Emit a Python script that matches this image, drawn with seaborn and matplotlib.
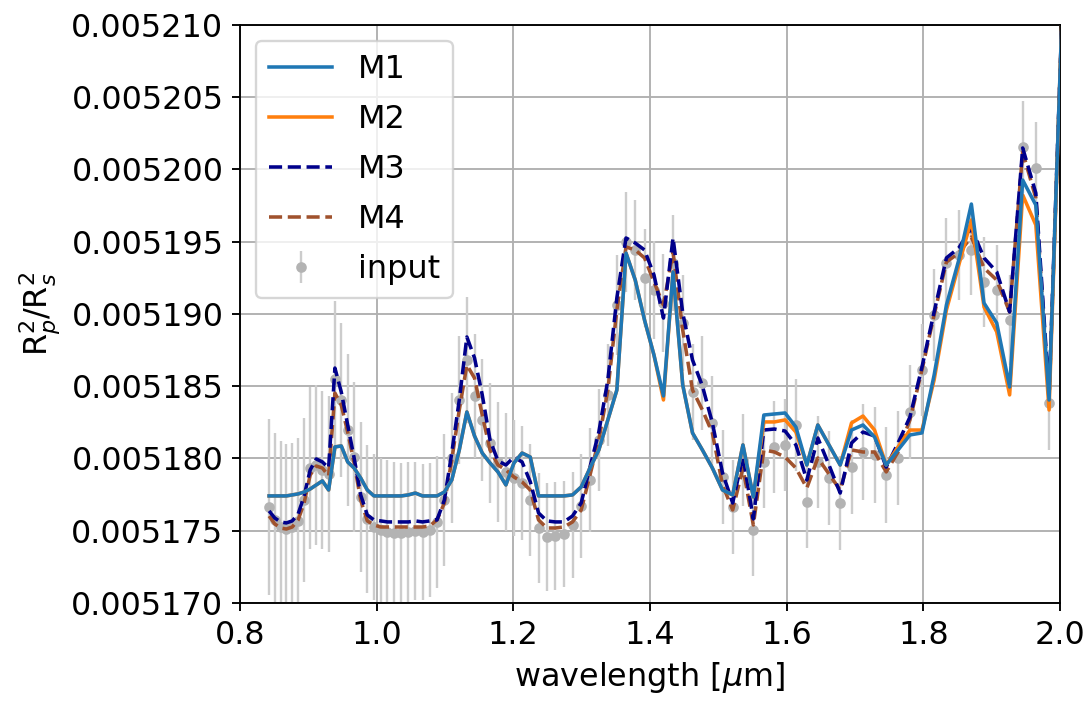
import numpy as np
import matplotlib
matplotlib.use("Agg")
import matplotlib.pyplot as plt
import seaborn as sns
from matplotlib.ticker import FormatStrFormatter, MultipleLocator

# wavelength grid [micron]
wavelength = [
    0.8426, 0.8509, 0.8593, 0.8678, 0.8764, 0.8851, 0.8938, 0.9027, 0.9116, 0.9206,
    0.9297, 0.9389, 0.9482, 0.9576, 0.9670, 0.9766, 0.9863, 0.9960, 1.0059, 1.0158,
    1.0259, 1.0360, 1.0463, 1.0566, 1.0671, 1.0776, 1.0883, 1.0991, 1.1099, 1.1209,
    1.1320, 1.1432, 1.1545, 1.1659, 1.1775, 1.1891, 1.2009, 1.2128, 1.2248, 1.2369,
    1.2491, 1.2615, 1.2740, 1.2866, 1.2993, 1.3122, 1.3251, 1.3383, 1.3515, 1.3649,
    1.3784, 1.3920, 1.4058, 1.4197, 1.4337, 1.4479, 1.4622, 1.4767, 1.4913, 1.5061,
    1.5210, 1.5360, 1.5512, 1.5666, 1.5821, 1.5977, 1.6135, 1.6295, 1.6456, 1.6619,
    1.6783, 1.6949, 1.7117, 1.7286, 1.7457, 1.7630, 1.7804, 1.7980, 1.8158, 1.8338,
    1.8519, 1.8703, 1.8888, 1.9074, 1.9263, 1.9454, 1.9646, 1.9840, 2.0037]

# all depth values below are in units of 1e-6
m1 = [
    5177.41, 5177.41, 5177.41, 5177.41, 5177.48, 5177.55, 5177.68, 5177.89, 5178.17, 5178.45, 5177.82,
    5180.80, 5180.87, 5179.76, 5179.34, 5178.65, 5177.82, 5177.41, 5177.41, 5177.41, 5177.41,
    5177.41, 5177.48, 5177.61, 5177.41, 5177.41, 5177.41, 5177.68, 5178.51, 5180.59, 5183.22,
    5181.56, 5180.38, 5179.69, 5179.07, 5178.17, 5179.69, 5180.38, 5180.10, 5177.41, 5177.41,
    5177.41, 5177.41, 5177.48, 5178.03, 5179.34, 5180.59, 5182.67, 5184.74, 5194.22, 5192.35,
    5189.58, 5187.16, 5184.33, 5192.91, 5185.09, 5181.77, 5180.59, 5179.34, 5177.82, 5177.48,
    5180.94, 5177.34, 5183.01, 5183.08, 5183.15, 5182.18, 5179.55, 5182.32, 5180.94, 5179.55,
    5181.97, 5182.32, 5181.49, 5179.55, 5180.59, 5181.63, 5181.77, 5185.78, 5190.62, 5193.74,
    5197.61, 5190.76, 5189.38, 5184.95, 5199.27, 5197.54, 5184.05, 5211.73]

m2 = [
    5177.41, 5177.41, 5177.41, 5177.41, 5177.48, 5177.55, 5177.68, 5177.89, 5178.17, 5178.45, 5177.82,
    5180.80, 5180.87, 5179.76, 5179.34, 5178.65, 5177.82, 5177.41, 5177.41, 5177.41, 5177.41,
    5177.41, 5177.48, 5177.61, 5177.41, 5177.41, 5177.41, 5177.68, 5178.51, 5180.59, 5183.22,
    5181.56, 5180.38, 5179.69, 5179.07, 5178.17, 5179.69, 5180.38, 5180.10, 5177.41, 5177.41,
    5177.41, 5177.41, 5177.48, 5178.03, 5179.34, 5180.59, 5182.67, 5184.74, 5194.22, 5192.35,
    5189.58, 5187.16, 5184.05, 5192.91, 5185.09, 5181.77, 5180.59, 5179.34, 5177.82, 5177.48,
    5180.94, 5177.34, 5182.53, 5182.53, 5182.67, 5181.83, 5179.55, 5182.32, 5180.94, 5179.55,
    5182.46, 5182.94, 5181.97, 5179.55, 5180.80, 5181.97, 5181.97, 5185.43, 5190.28, 5193.39,
    5196.51, 5190.49, 5188.76, 5184.40, 5198.24, 5196.16, 5183.36, 5211.73]

m3 = [
    5176.37, 5175.88, 5175.61, 5175.54, 5175.68, 5176.16, 5177.41, 5179.21, 5179.97, 5179.76, 5179.34,
    5186.26, 5184.60, 5182.32, 5180.04, 5177.48, 5176.09, 5175.75, 5175.68, 5175.61, 5175.61,
    5175.61, 5175.61, 5175.68, 5175.61, 5175.68, 5175.75, 5177.13, 5180.38, 5184.05, 5188.41,
    5186.96, 5184.40, 5181.28, 5179.83, 5179.55, 5180.10, 5179.76, 5178.38, 5176.23, 5175.68,
    5175.61, 5175.61, 5176.02, 5176.92, 5179.41, 5181.83, 5185.43, 5191.11, 5195.26, 5194.91,
    5194.43, 5192.70, 5189.72, 5195.26, 5190.07, 5186.82, 5185.02, 5182.46, 5179.00, 5176.92,
    5180.17, 5175.82, 5181.97, 5182.04, 5181.90, 5180.94, 5178.51, 5181.42, 5179.55, 5177.61,
    5181.07, 5181.83, 5181.56, 5179.41, 5181.07, 5182.87, 5186.33, 5190.14, 5193.88, 5194.57,
    5195.95, 5193.88, 5192.91, 5190.14, 5201.49, 5198.37, 5184.40, 5211.73]

m4 = [
    5176.02, 5175.47, 5175.19, 5175.12, 5175.26, 5175.75, 5176.92, 5178.86, 5179.48, 5179.34, 5178.79,
    5184.53, 5183.70, 5181.83, 5179.69, 5177.13, 5175.68, 5175.40, 5175.26, 5175.26, 5175.26,
    5175.26, 5175.26, 5175.26, 5175.26, 5175.33, 5175.75, 5176.92, 5179.90, 5183.36, 5186.47,
    5185.57, 5183.01, 5180.59, 5179.55, 5179.21, 5178.72, 5178.38, 5177.82, 5175.75, 5175.19,
    5175.19, 5175.26, 5175.61, 5176.44, 5178.86, 5181.28, 5184.74, 5190.28, 5194.64, 5194.43,
    5193.88, 5192.22, 5190.62, 5194.29, 5188.89, 5184.74, 5183.36, 5181.77, 5178.17, 5176.44,
    5179.34, 5175.40, 5180.59, 5180.45, 5180.10, 5179.34, 5177.96, 5180.04, 5178.93, 5177.82,
    5180.59, 5180.45, 5180.45, 5179.07, 5180.45, 5182.67, 5186.13, 5189.93, 5193.60, 5194.22,
    5195.33, 5193.18, 5192.35, 5190.14, 5201.21, 5198.03, 5184.05, 5211.73]

input_depth = [
    5176.64, 5175.75, 5175.26, 5175.12, 5175.26, 5175.68, 5177.13, 5179.34, 5179.55, 5179.21, 5178.93,
    5185.50, 5184.05, 5181.97, 5180.10, 5177.34, 5175.82, 5175.26, 5175.05, 5174.91, 5174.85,
    5174.85, 5174.91, 5174.98, 5174.91, 5175.05, 5175.61, 5177.13, 5180.04, 5184.05, 5186.82,
    5184.33, 5182.67, 5181.07, 5179.76, 5179.07, 5178.65, 5178.31, 5177.13, 5175.19, 5174.57,
    5174.64, 5174.78, 5175.40, 5176.71, 5178.51, 5181.28, 5184.40, 5190.62, 5194.98, 5194.43,
    5192.49, 5191.66, 5190.76, 5193.53, 5189.38, 5184.60, 5185.23, 5182.46, 5178.72, 5176.64,
    5179.90, 5175.05, 5179.76, 5180.80, 5180.94, 5182.32, 5176.99, 5179.76, 5178.65, 5176.92,
    5179.41, 5180.45, 5180.24, 5178.86, 5180.04, 5183.22, 5186.13, 5189.93, 5193.53, 5194.08,
    5194.43, 5192.22, 5191.66, 5189.58, 5201.56, 5200.10, 5183.84, 5211.73]

input_err = [
    6.09, 6.02, 5.95, 5.88, 5.81, 5.74, 5.67, 5.61, 5.54, 5.47, 5.40,
    5.40, 5.33, 5.26, 5.19, 5.19, 5.12, 5.05, 4.98, 4.98, 4.91,
    4.84, 4.84, 4.77, 4.71, 4.64, 4.57, 4.57, 4.50, 4.43, 4.36,
    4.29, 4.22, 4.15, 4.15, 4.08, 4.01, 3.94, 3.88, 3.81, 3.74,
    3.74, 3.67, 3.67, 3.60, 3.60, 3.53, 3.53, 3.46, 3.46, 3.46,
    3.39, 3.39, 3.39, 3.32, 3.32, 3.32, 3.25, 3.25, 3.25, 3.25,
    3.18, 3.18, 3.18, 3.18, 3.18, 3.18, 3.18, 3.18, 3.25, 3.25,
    3.25, 3.32, 3.32, 3.32, 3.25, 3.25, 3.18, 3.18, 3.11, 3.11,
    3.11, 3.11, 3.11, 3.11, 3.18, 3.18, 3.25, 3.25]

UNIT = 1e-6
x = np.array(wavelength)
y1 = np.array(m1) * UNIT
y2 = np.array(m2) * UNIT
y3 = np.array(m3) * UNIT
y4 = np.array(m4) * UNIT
yin = np.array(input_depth) * UNIT
yerr = np.array(input_err) * UNIT

plt.rcParams['font.family'] = ['DejaVu Sans']
plt.rcParams['font.size'] = 13.5

DPI = 170
fig = plt.figure(figsize=(1087 / DPI, 705 / DPI), dpi=DPI)
ax = fig.add_axes([240 / 1087, 1 - 603 / 705, 820 / 1087, 578 / 705])

ax.errorbar(x, yin, yerr=yerr, fmt='o', color='#b3b3b3', ms=3.5,
            ecolor='#cccccc', elinewidth=1.0, label='input', zorder=2)
sns.lineplot(x=x, y=y4, ax=ax, color='sienna', linestyle='--', lw=1.5, label='M4', zorder=3)
sns.lineplot(x=x, y=y3, ax=ax, color='darkblue', linestyle='--', lw=1.5, label='M3', zorder=4)
sns.lineplot(x=x, y=y2, ax=ax, color='#ff7f0e', lw=1.5, label='M2', zorder=5)
sns.lineplot(x=x, y=y1, ax=ax, color='#1f77b4', lw=1.5, label='M1', zorder=6)

ax.set_xlim(0.8, 2.0)
ax.set_ylim(0.00517, 0.00521)
ax.xaxis.set_major_locator(MultipleLocator(0.2))
ax.xaxis.set_major_formatter(FormatStrFormatter('%.1f'))
ax.yaxis.set_major_locator(MultipleLocator(0.000005))
ax.yaxis.set_major_formatter(FormatStrFormatter('%.6f'))
ax.tick_params(axis='both', labelsize=13.5)
ax.grid(True, color='#b0b0b0', lw=0.8)
ax.set_axisbelow(True)
ax.set_xlabel(r'wavelength [$\mu$m]', fontsize=13.5)
ax.set_ylabel(r'R$_p^2$/R$_s^2$', fontsize=13.5)

handles, labels = ax.get_legend_handles_labels()
order = ['M1', 'M2', 'M3', 'M4', 'input']
hmap = dict(zip(labels, handles))
ax.legend([hmap[k] for k in order], order, loc='upper left', fontsize=13.5,
          labelspacing=0.6)

fig.savefig('out.png', dpi=DPI)
